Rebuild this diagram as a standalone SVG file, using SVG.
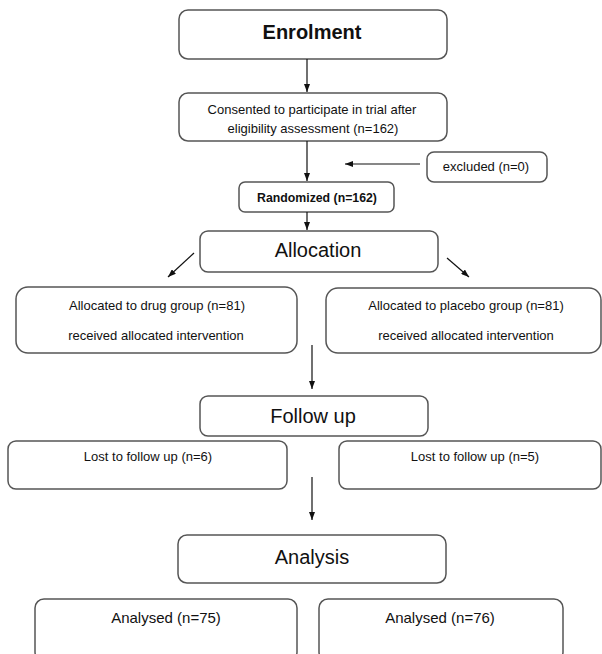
<svg xmlns="http://www.w3.org/2000/svg" width="602" height="654" viewBox="0 0 602 654">
<style>
.box{fill:#fff;stroke:#555;stroke-width:1.5}
text{font-family:"Liberation Sans",Arial,sans-serif;fill:#111;text-anchor:middle}
.big{font-size:20px}
.sm{font-size:13px}
.md{font-size:15px}
.conn line{stroke:#111;stroke-width:1.2;marker-end:url(#ah)}
</style>
<defs>
<marker id="ah" viewBox="0 0 8 6" refX="8" refY="3" markerWidth="8" markerHeight="6" markerUnits="userSpaceOnUse" orient="auto">
<path d="M0,0 L8,3 L0,6 z" fill="#111"/>
</marker>
</defs>
<rect width="602" height="654" fill="#fff"/>
<g id="enrolment"><rect class="box" x="179" y="10" width="268" height="49" rx="9"/><text class="big" x="312" y="39" font-weight="bold">Enrolment</text></g>
<g id="consented"><rect class="box" x="179" y="93" width="268" height="48" rx="9"/><text class="sm" x="312" y="114">Consented to participate in trial after</text><text class="sm" x="313" y="133">eligibility assessment (n=162)</text></g>
<g id="excluded"><rect class="box" x="427" y="152" width="120" height="30" rx="7"/><text class="sm" x="486" y="171">excluded (n=0)</text></g>
<g id="randomized"><rect class="box" x="239" y="182" width="155" height="30" rx="6"/><text x="317" y="202" font-size="12.3" font-weight="bold">Randomized (n=162)</text></g>
<g id="allocation"><rect class="box" x="200" y="231" width="238" height="41" rx="8"/><text class="big" x="318" y="257">Allocation</text></g>
<g id="drug"><rect class="box" x="16" y="287" width="281" height="66" rx="12"/><text class="sm" x="157" y="310">Allocated to drug group (n=81)</text><text class="sm" x="156" y="340">received allocated intervention</text></g>
<g id="placebo"><rect class="box" x="326" y="288" width="275" height="65" rx="12"/><text class="sm" x="466" y="310">Allocated to placebo group (n=81)</text><text class="sm" x="466" y="340">received allocated intervention</text></g>
<g id="followup"><rect class="box" x="200" y="396" width="228" height="40" rx="8"/><text class="big" x="313" y="423">Follow up</text></g>
<g id="lost-drug"><rect class="box" x="8" y="441" width="279" height="48" rx="8"/><text class="sm" x="148" y="461">Lost to follow up (n=6)</text></g>
<g id="lost-placebo"><rect class="box" x="339" y="441" width="262" height="48" rx="8"/><text class="sm" x="475" y="461">Lost to follow up (n=5)</text></g>
<g id="analysis"><rect class="box" x="178" y="535" width="268" height="48" rx="9"/><text class="big" x="312" y="564">Analysis</text></g>
<g id="analysed-drug"><rect class="box" x="35" y="599" width="262" height="62" rx="9"/><text class="md" x="166" y="623">Analysed (n=75)</text></g>
<g id="analysed-placebo"><rect class="box" x="319" y="599" width="244" height="62" rx="9"/><text class="md" x="440" y="623">Analysed (n=76)</text></g>
<g id="connectors" class="conn">
<line x1="307" y1="59" x2="307" y2="92"/>
<line x1="307" y1="141" x2="307" y2="181"/>
<line x1="420" y1="164" x2="345" y2="164"/>
<line x1="307" y1="212" x2="307" y2="230"/>
<line x1="194" y1="253" x2="168" y2="277"/>
<line x1="447" y1="258" x2="469" y2="277"/>
<line x1="312" y1="345" x2="312" y2="389"/>
<line x1="312" y1="477" x2="312" y2="520"/>
</g>
</svg>
